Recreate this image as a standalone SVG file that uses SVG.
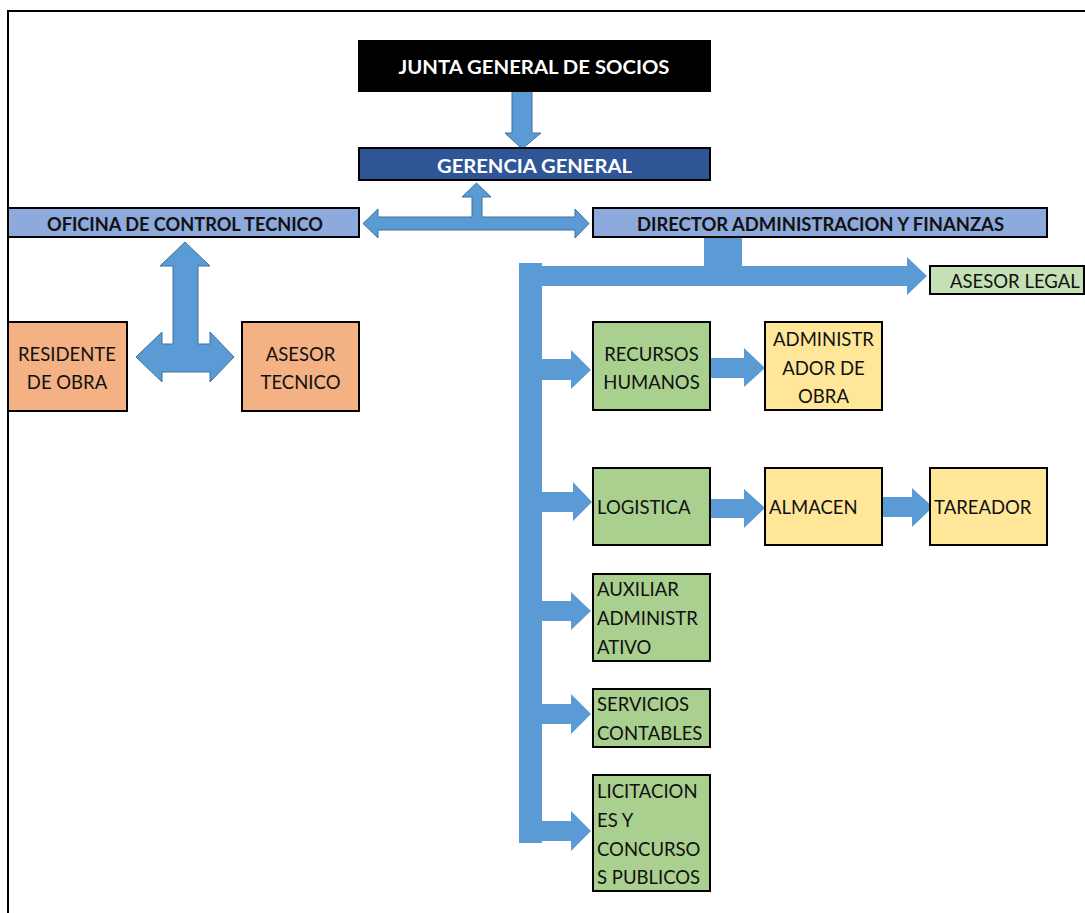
<svg xmlns="http://www.w3.org/2000/svg" width="1085" height="913" viewBox="0 0 1085 913">
<style>
.box{stroke:#000;stroke-width:2}
.t{font-family:Lato,"Liberation Sans",sans-serif;font-size:18.5px;fill:#111}
.b{font-family:Lato,"Liberation Sans",sans-serif;font-size:18.5px;font-weight:bold}
.c{text-anchor:middle}
.arr{fill:#5B9BD5}
.arro{fill:#5B9BD5;stroke:#41719C;stroke-width:1}
</style>
<rect width="1085" height="913" fill="#fff"/>
<path d="M8,913 V11 H1085" fill="none" stroke="#000" stroke-width="2"/>

<g id="connectors">
  <polygon class="arro" points="512,88 532,88 532,133 541,133 522,149 505,133 512,133"/>
  <polygon class="arro" points="363,223.5 378,209 378,217 472,217 472,197 462,197 476.5,183 491,197 482,197 482,217 575,217 575,209 589,223.5 575,238 575,230 378,230 378,238"/>
  <polygon class="arro" points="185,242 210,266 198,266 198,344 210,344 210,332 234,357 210,382 210,372 162,372 162,382 136,357 162,332 162,344 173,344 173,266 160,266"/>
  <rect class="arr" x="704" y="237" width="38" height="30"/>
  <polygon class="arr" points="519,263 542,263 542,266 907,266 907,257 927,276 907,295 907,286 542,286 542,843 519,843"/>
  <polygon class="arr" points="541,359 571,359 571,350 591,370 571,389 571,380 541,380"/>
  <polygon class="arr" points="541,492 573,492 573,482 592,502 573,521 573,512 541,512"/>
  <polygon class="arr" points="541,601 571,601 571,592 591,611 571,630 571,621 541,621"/>
  <polygon class="arr" points="541,704 571,704 571,694 591,714 571,734 571,724 541,724"/>
  <polygon class="arr" points="541,821 571,821 571,811 591,831 571,851 571,841 541,841"/>
  <polygon class="arr" points="711,358 744,358 744,348 765,368 744,387 744,378 711,378"/>
  <polygon class="arr" points="711,499 744,499 744,489 765,508 744,528 744,518 711,518"/>
  <polygon class="arr" points="879,497 912,497 912,488 933,507 912,527 912,517 879,517"/>
</g>

<g id="junta"><rect class="box" x="359" y="41" width="351" height="50" fill="#000"/>
<text class="b c" x="534" y="74" fill="#fff" textLength="271" lengthAdjust="spacingAndGlyphs">JUNTA GENERAL DE SOCIOS</text></g>
<g id="gerencia"><rect class="box" x="359" y="148" width="351" height="32" fill="#2F5597"/>
<text class="b c" x="534.5" y="173" fill="#fff" textLength="195" lengthAdjust="spacingAndGlyphs">GERENCIA GENERAL</text></g>
<g id="oficina"><rect class="box" x="8" y="208" width="351" height="29" fill="#8EA9DB"/>
<text class="b c" x="185" y="231" fill="#111" textLength="276" lengthAdjust="spacingAndGlyphs">OFICINA DE CONTROL TECNICO</text></g>
<g id="director"><rect class="box" x="593" y="208" width="454" height="29" fill="#8EA9DB"/>
<text class="b c" x="820.5" y="231" fill="#111" textLength="367" lengthAdjust="spacingAndGlyphs">DIRECTOR ADMINISTRACION Y FINANZAS</text></g>

<g id="residente"><rect class="box" x="8" y="322" width="119" height="89" fill="#F4B183"/>
<text class="t c" x="67" y="361">RESIDENTE</text><text class="t c" x="67" y="389">DE OBRA</text></g>
<g id="asesor-tecnico"><rect class="box" x="242" y="322" width="117" height="89" fill="#F4B183"/>
<text class="t c" x="300.5" y="361">ASESOR</text><text class="t c" x="300.5" y="389">TECNICO</text></g>

<g id="asesor-legal"><rect class="box" x="930" y="266" width="154" height="28" fill="#C5E0B4"/>
<text class="t" x="950" y="288">ASESOR LEGAL</text></g>

<g id="rrhh"><rect class="box" x="593" y="322" width="117" height="88" fill="#A9D08E"/>
<text class="t c" x="651.5" y="361">RECURSOS</text><text class="t c" x="651.5" y="389">HUMANOS</text></g>
<g id="admin-obra"><rect class="box" x="765" y="322" width="117" height="88" fill="#FFE699"/>
<text class="t c" x="823.5" y="346">ADMINISTR</text><text class="t c" x="823.5" y="375">ADOR DE</text><text class="t c" x="823.5" y="403">OBRA</text></g>

<g id="logistica"><rect class="box" x="593" y="468" width="117" height="77" fill="#A9D08E"/>
<text class="t" x="597" y="514">LOGISTICA</text></g>
<g id="almacen"><rect class="box" x="765" y="468" width="117" height="77" fill="#FFE699"/>
<text class="t" x="769" y="514">ALMACEN</text></g>
<g id="tareador"><rect class="box" x="930" y="468" width="117" height="77" fill="#FFE699"/>
<text class="t" x="934" y="514">TAREADOR</text></g>

<g id="auxiliar"><rect class="box" x="593" y="574" width="117" height="87" fill="#A9D08E"/>
<text class="t" x="597" y="596">AUXILIAR</text><text class="t" x="597" y="625">ADMINISTR</text><text class="t" x="597" y="654">ATIVO</text></g>
<g id="servicios"><rect class="box" x="593" y="689" width="117" height="58" fill="#A9D08E"/>
<text class="t" x="597" y="711">SERVICIOS</text><text class="t" x="597" y="740">CONTABLES</text></g>
<g id="licitaciones"><rect class="box" x="593" y="775" width="117" height="116" fill="#A9D08E"/>
<text class="t" x="597" y="798">LICITACION</text><text class="t" x="597" y="827">ES Y</text><text class="t" x="597" y="856">CONCURSO</text><text class="t" x="597" y="884">S PUBLICOS</text></g>
</svg>
